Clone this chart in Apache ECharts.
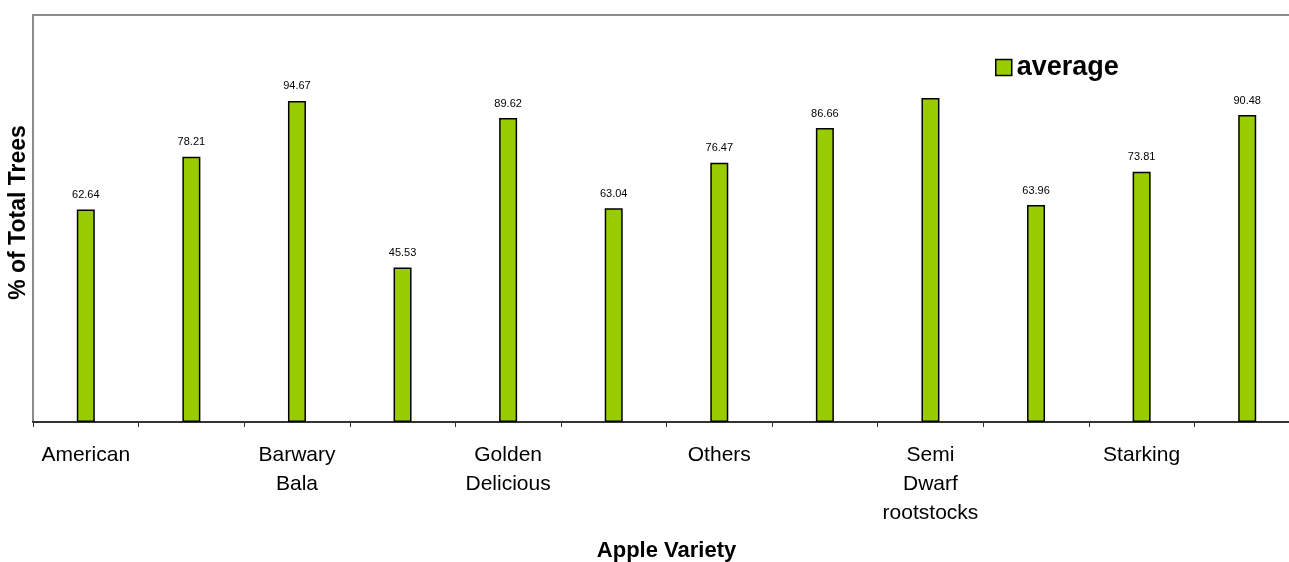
<!DOCTYPE html>
<html>
<head>
<meta charset="utf-8">
<title>Apple Variety</title>
<script src="https://cdn.jsdelivr.net/npm/echarts@6/dist/echarts.min.js"></script>
<style>
  html, body { margin: 0; padding: 0; background: #ffffff; overflow: hidden; }
  #chart { width: 1300px; height: 562px; }
</style>
</head>
<body>
<div id="chart"></div>
<script>
// Apple varieties along the x axis; only every other one carries a printed name.
const categories = [
  'American', '', 'Barwary\nBala', '', 'Golden\nDelicious', '',
  'Others', '', 'Semi\nDwarf\nrootstocks', '', 'Starking', ''
];
// Average share of total trees (%) for each variety.
const averageValues = [62.64, 78.21, 94.67, 45.53, 89.62, 63.04, 76.47, 86.66, 95.5, 63.96, 73.81, 90.48];
// Whether the value is printed above the bar.
const showValueLabel = [true, true, true, true, true, true, true, true, false, true, true, true];

const FONT = '"Liberation Sans", Arial, Helvetica, sans-serif';

const chart = echarts.init(document.getElementById('chart'), null, { renderer: 'canvas' });

chart.setOption({
  animation: false,
  backgroundColor: '#ffffff',
  textStyle: { fontFamily: FONT },
  grid: {
    left: 33,
    top: 15,
    width: 1267,
    height: 407,
    containLabel: false,
    outerBoundsMode: 'none',
    show: true,
    borderColor: '#8c8c8c',
    borderWidth: 2,
    backgroundColor: 'transparent'
  },
  legend: {
    data: ['average'],
    left: 990,
    top: 49,
    itemWidth: 16,
    itemHeight: 16,
    itemGap: 5,
    icon: 'rect',
    itemStyle: { borderColor: '#000000', borderWidth: 1.5 },
    textStyle: { fontFamily: FONT, fontSize: 27, fontWeight: 'bold', color: '#000000' }
  },
  xAxis: {
    type: 'category',
    data: categories,
    boundaryGap: true,
    name: 'Apple Variety',
    nameLocation: 'middle',
    nameGap: 118,
    nameTextStyle: { fontFamily: FONT, fontSize: 22, fontWeight: 'bold', color: '#000000' },
    axisLine: { show: true, lineStyle: { color: '#333333', width: 2 } },
    axisTick: { show: true, alignWithLabel: false, interval: 0, length: 5, lineStyle: { color: '#333333', width: 1 } },
    axisLabel: {
      interval: 0,
      margin: 19,
      fontFamily: FONT,
      fontSize: 21,
      lineHeight: 29,
      color: '#000000'
    },
    splitLine: { show: false }
  },
  yAxis: {
    type: 'value',
    min: 0,
    max: 120,
    name: '% of Total Trees',
    nameLocation: 'middle',
    nameRotate: 90,
    nameGap: 3,
    nameTextStyle: { fontFamily: FONT, fontSize: 23, fontWeight: 'bold', color: '#000000', padding: [0, 0, 0, 12] },
    axisLine: { show: true, lineStyle: { color: '#8c8c8c', width: 2 } },
    axisTick: { show: false },
    axisLabel: { show: false },
    splitLine: { show: false }
  },
  series: [{
    name: 'average',
    type: 'bar',
    barWidth: 18,
    data: averageValues.map((v, i) => ({ value: v, label: { show: showValueLabel[i] } })),
    itemStyle: { color: '#99cc00', borderColor: '#000000', borderWidth: 1.5 },
    label: {
      show: true,
      position: 'top',
      distance: 9,
      fontFamily: FONT,
      fontSize: 11,
      color: '#000000',
      formatter: (p) => p.value.toFixed(2)
    }
  }]
});
</script>
</body>
</html>
